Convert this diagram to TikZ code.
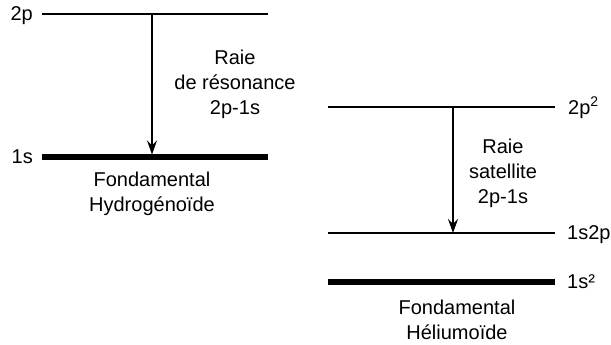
\documentclass[tikz,border=0pt]{standalone}
\usepackage{fontspec}
\setmainfont{Liberation Sans}
\usetikzlibrary{arrows.meta}

\tikzset{
  level/.style={line width=1.6pt},
  ground/.style={line width=5.5pt},
  trans/.style={line width=1.6pt, -{Stealth[length=14pt, width=10pt, inset=5pt]}},
  txt/.style={inner sep=0pt, font=\fontsize{20}{25}\selectfont, align=center}
}

\begin{document}
\begin{tikzpicture}[x=1pt, y=-1pt]
  \useasboundingbox (0,0) rectangle (611,345);

  % Hydrogen-like ion (left)
  \coordinate (h2pL) at (42,14);   \coordinate (h2pR) at (268,14);
  \coordinate (h1sL) at (42,157);  \coordinate (h1sR) at (268,157);
  \draw[level] (h2pL) -- (h2pR);
  \draw[ground] (h1sL) -- (h1sR);
  \node[txt, anchor=base east] (h2p) at (33,21) {2p};
  \node[txt, anchor=base east] (h1s) at (33,164) {1s};
  \coordinate (hTop) at (152,14);
  \coordinate (hBot) at (152,154.5);
  \draw[trans] (hTop) -- (hBot);
  % base of a multi-line node sits on its last line
  \node[txt, anchor=base] (hline) at (235,114) {Raie\\de résonance\\2p-1s};
  \node[txt, anchor=base] (hname) at (152,211) {Fondamental\\Hydrogénoïde};

  % Helium-like ion (right)
  \coordinate (he2pL) at (328,107);  \coordinate (he2pR) at (555,107);
  \coordinate (he12L) at (328,233);  \coordinate (he12R) at (555,233);
  \coordinate (he1sL) at (328,282);  \coordinate (he1sR) at (555,282);
  \draw[level] (he2pL) -- (he2pR);
  \draw[level] (he12L) -- (he12R);
  \draw[ground] (he1sL) -- (he1sR);
  \node[txt, anchor=base west] (he2p) at (568,114) {2p\textsuperscript{2}};
  \node[txt, anchor=base west] (he12) at (567,239) {1s2p};
  \node[txt, anchor=base west] (he1s) at (567,288) {1s²};
  \coordinate (heTop) at (453,107);
  \coordinate (heBot) at (453,233);
  \draw[trans] (heTop) -- (heBot);
  \node[txt, anchor=base] (heline) at (503,203) {Raie\\satellite\\2p-1s};
  \node[txt, anchor=base] (hename) at (457,339) {Fondamental\\Héliumoïde};
\end{tikzpicture}
\end{document}
